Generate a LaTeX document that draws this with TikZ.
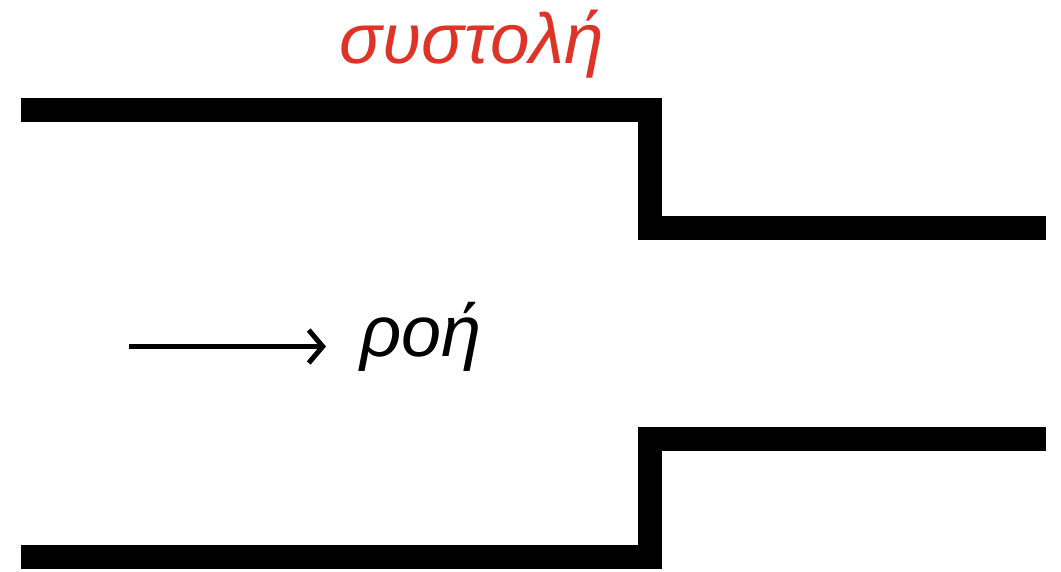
\documentclass[tikz,border=0pt]{standalone}
\usepackage{fontspec}
\setmainfont{Liberation Sans}
\usetikzlibrary{arrows.meta}
\definecolor{labelred}{RGB}{222,52,40}
\begin{document}
\begin{tikzpicture}[x=1pt,y=-1pt,
  wall/.style={line width=24pt,line cap=butt,line join=miter},
  flowarrow/.style={line width=4.5pt,-{Straight Barb[length=14pt,width=33pt,line width=5pt]}},
  lbl/.style={inner sep=0pt,anchor=base}]
\useasboundingbox (0,0) rectangle (1061,571);
\draw[wall] (21,109.5) -- (650,109.5) -- (650,227.5) -- (1046,227.5);
\draw[wall] (21,557) -- (650,557) -- (650,439) -- (1046,439);
\node[lbl,text=labelred,font=\itshape\fontsize{71}{71}\selectfont] (title) at (472,63) {συστολή};
\coordinate (a0) at (129,346.5);
\coordinate (a1) at (326,346.5);
\draw[flowarrow] (a0) -- (a1);
\node[lbl,anchor=base west,font=\itshape\fontsize{72}{72}\selectfont] (flow) at (360,356) {ροή};
\end{tikzpicture}
\end{document}
